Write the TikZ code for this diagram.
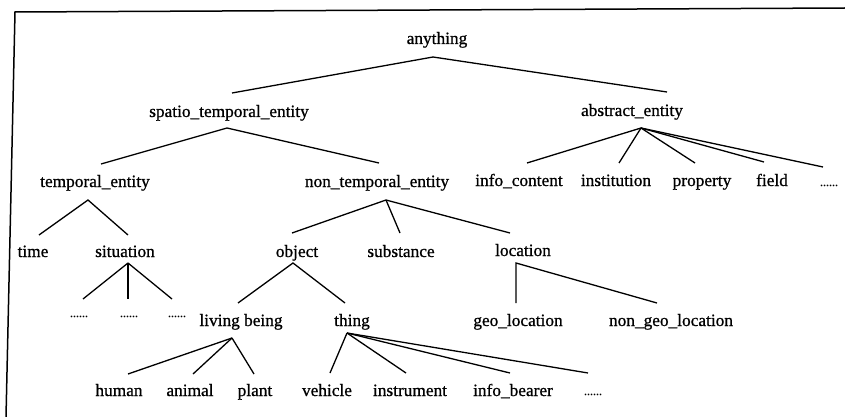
\documentclass[tikz,border=0pt]{standalone}
\usepackage{fontspec}
\setmainfont[FakeBold=0.8]{Liberation Serif}
\begin{document}
\begin{tikzpicture}[x=1pt,y=-1pt,
  lbl/.style={font=\fontsize{17.3}{20}\selectfont, inner sep=0pt, text height=12pt, text depth=4pt, anchor=center},
  dotlbl/.style={font=\fontsize{12}{14}\selectfont, inner sep=0pt, text height=12pt, text depth=4pt, anchor=center},
  edge/.style={line width=1.3pt},
  frame/.style={line width=1.5pt}]
\useasboundingbox (0,0) rectangle (845,417);
% frame
\coordinate (fTL) at (15,12);
\coordinate (fTR) at (845,8);
\coordinate (fBL) at (6,417);
\draw[frame] (fTR) -- (fTL) -- (fBL);
% nodes
\node[lbl] (anything) at (437,40) {anything};
\node[lbl] (ste) at (229,113) {spatio\_temporal\_entity};
\node[lbl] (abs) at (632,112) {abstract\_entity};
\node[lbl] (te) at (95,183) {temporal\_entity};
\node[lbl] (nte) at (377,183) {non\_temporal\_entity};
\node[lbl] (ic) at (519,182) {info\_content};
\node[lbl] (inst) at (616,182) {institution};
\node[lbl] (prop) at (702,182) {property};
\node[lbl] (field) at (772,182) {field};
\node[dotlbl] (absdots) at (829,182) {......};
\node[lbl] (time) at (33,253) {time};
\node[lbl] (sit) at (125,253) {situation};
\node[lbl] (obj) at (297,253) {object};
\node[lbl] (subst) at (401,253) {substance};
\node[lbl] (loc) at (523,252) {location};
\node[dotlbl] (sd1) at (79,313) {......};
\node[dotlbl] (sd2) at (129,313) {......};
\node[dotlbl] (sd3) at (177,313) {......};
\node[lbl] (lb) at (241,322) {living being};
\node[lbl] (thing) at (352,322) {thing};
\node[lbl] (geo) at (518,322) {geo\_location};
\node[lbl] (ngeo) at (671,322) {non\_geo\_location};
\node[lbl] (human) at (119,392) {human};
\node[lbl] (animal) at (190,392) {animal};
\node[lbl] (plant) at (255,392) {plant};
\node[lbl] (veh) at (327,392) {vehicle};
\node[lbl] (instr) at (410,392) {instrument};
\node[lbl] (ib) at (513,392) {info\_bearer};
\node[dotlbl] (thdots) at (593,391) {......};
% apex coordinates
\coordinate (a-any) at (433,57);
\coordinate (a-ste) at (227,128);
\coordinate (a-abs) at (641,128);
\coordinate (a-te) at (88,200);
\coordinate (a-nte) at (386,200);
\coordinate (a-sit) at (128,263);
\coordinate (a-obj) at (293,263);
\coordinate (a-loc) at (516,263);
\coordinate (a-lb) at (232,338);
\coordinate (a-thing) at (347,333);
% end coordinates
\coordinate (e-ste) at (232,93);
\coordinate (e-abs) at (667,92);
\coordinate (e-te) at (101,164);
\coordinate (e-nte) at (379,163);
\coordinate (e-ic) at (527,163);
\coordinate (e-inst) at (619,163);
\coordinate (e-prop) at (695,163);
\coordinate (e-field) at (764,162);
\coordinate (e-absdots) at (823,167);
\coordinate (e-time) at (39,235);
\coordinate (e-sit) at (128,235);
\coordinate (e-obj) at (292,233);
\coordinate (e-subst) at (400,233);
\coordinate (e-loc) at (510,233);
\coordinate (e-sd1) at (83,299);
\coordinate (e-sd2) at (128,299);
\coordinate (e-sd3) at (172,299);
\coordinate (e-lb) at (238,303);
\coordinate (e-thing) at (345,303);
\coordinate (e-geo) at (516,303);
\coordinate (e-ngeo) at (657,303);
\coordinate (e-human) at (128,374);
\coordinate (e-animal) at (193,374);
\coordinate (e-plant) at (254,374);
\coordinate (e-veh) at (330,373);
\coordinate (e-instr) at (406,373);
\coordinate (e-ib) at (510,373);
\coordinate (e-thdots) at (588,373);
% edges
\draw[edge] (e-ste) -- (a-any) -- (e-abs);
\draw[edge] (e-te) -- (a-ste) -- (e-nte);
\foreach \c in {ic,inst,prop,field,absdots} \draw[edge] (a-abs) -- (e-\c);
\draw[edge] (e-time) -- (a-te) -- (e-sit);
\foreach \c in {obj,subst,loc} \draw[edge] (a-nte) -- (e-\c);
\foreach \c in {sd1,sd2,sd3} \draw[edge] (a-sit) -- (e-\c);
\draw[edge] (e-lb) -- (a-obj) -- (e-thing);
\draw[edge] (e-geo) -- (a-loc) -- (e-ngeo);
\foreach \c in {human,animal,plant} \draw[edge] (a-lb) -- (e-\c);
\foreach \c in {veh,instr,ib,thdots} \draw[edge] (a-thing) -- (e-\c);
\end{tikzpicture}
\end{document}
